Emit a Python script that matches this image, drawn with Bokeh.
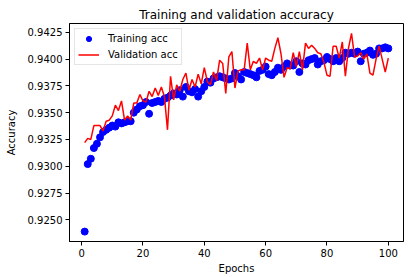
from bokeh.plotting import figure
from bokeh.embed import file_html
from bokeh.resources import INLINE
from bokeh.models import Range1d, FixedTicker, NumeralTickFormatter, Legend, LegendItem, ColumnDataSource

epochs = list(range(1, 101))
train_acc = [
    0.9239, 0.9302, 0.9307, 0.9317, 0.9321, 0.9327, 0.9332, 0.9334, 0.9336, 0.9338,
    0.9337, 0.9341, 0.9340, 0.9341, 0.9342, 0.9342, 0.9350, 0.9353, 0.9356, 0.9357,
    0.9360, 0.9349, 0.9359, 0.9360, 0.9361, 0.9360, 0.9363, 0.9364, 0.9366, 0.9368,
    0.9367, 0.9371, 0.9365, 0.9374, 0.9370, 0.9369, 0.9372, 0.9365, 0.9370, 0.9374,
    0.9379, 0.9378, 0.9382, 0.9383, 0.9384, 0.9383, 0.9382, 0.9381, 0.9382, 0.9387,
    0.9384, 0.9381, 0.9388, 0.9387, 0.9386, 0.9385, 0.9383, 0.9389, 0.9390, 0.9393,
    0.9386, 0.9385, 0.9388, 0.9392, 0.9390, 0.9393, 0.9396, 0.9394, 0.9394, 0.9398,
    0.9388, 0.9396, 0.9395, 0.9399, 0.9400, 0.9401, 0.9395, 0.9398, 0.9399, 0.9402,
    0.9400, 0.9398, 0.9401, 0.9398, 0.9401, 0.9406, 0.9405, 0.9406, 0.9405, 0.9407,
    0.9398, 0.9405, 0.9406, 0.9408, 0.9404, 0.9405, 0.9410, 0.9410, 0.9411, 0.9410,
]
val_acc = [
    0.9322, 0.9326, 0.9325, 0.9338, 0.9338, 0.9338, 0.9333, 0.9342, 0.9343, 0.9347,
    0.9357, 0.9352, 0.9361, 0.9343, 0.9347, 0.9343, 0.9359, 0.9359, 0.9367, 0.9361,
    0.9360, 0.9370, 0.9365, 0.9373, 0.9366, 0.9374, 0.9365, 0.9334, 0.9384, 0.9362,
    0.9376, 0.9370, 0.9381, 0.9387, 0.9371, 0.9381, 0.9374, 0.9386, 0.9377, 0.9392,
    0.9379, 0.9376, 0.9388, 0.9380, 0.9399, 0.9396, 0.9368, 0.9402, 0.9407, 0.9373,
    0.9389, 0.9390, 0.9390, 0.9415, 0.9390, 0.9398, 0.9396, 0.9401, 0.9390, 0.9401,
    0.9399, 0.9398, 0.9410, 0.9420, 0.9405, 0.9383, 0.9392, 0.9391, 0.9406, 0.9393,
    0.9407, 0.9390, 0.9415, 0.9410, 0.9413, 0.9410, 0.9406, 0.9405, 0.9397, 0.9385,
    0.9384, 0.9412, 0.9412, 0.9401, 0.9416, 0.9384, 0.9410, 0.9424, 0.9402, 0.9403,
    0.9406, 0.9400, 0.9405, 0.9387, 0.9385, 0.9400, 0.9412, 0.9400, 0.9388, 0.9401,
]
x_ticks = [0, 20, 40, 60, 80, 100]
y_ticks = [0.9250, 0.9275, 0.9300, 0.9325, 0.9350, 0.9375, 0.9400, 0.9425]

# matplotlib-style 5% margins
xmin, xmax = min(epochs), max(epochs)
xm = (xmax - xmin) * 0.05
allv = train_acc + val_acc
ymin, ymax = min(allv), max(allv)
ym = (ymax - ymin) * 0.05

FONT = "DejaVu Sans"

p = figure(
    frame_width=334, frame_height=218,
    output_backend="svg", toolbar_location=None,
    x_range=Range1d(xmin - xm, xmax + xm),
    y_range=Range1d(ymin - ym, ymax + ym),
    min_border_left=69, min_border_right=5, min_border_top=23, min_border_bottom=29,
    title="Training and validation accuracy",
)
p.title.text_font = FONT
p.title.text_font_size = "12px"
p.title.text_font_style = "normal"
p.title.align = "center"
p.title.text_color = "#000000"
p.title.offset = 0
p.title.standoff = 4

p.background_fill_color = "white"
p.border_fill_color = "white"
p.outline_line_color = "black"
p.outline_line_width = 1
p.xgrid.visible = False
p.ygrid.visible = False

src = ColumnDataSource(dict(x=epochs, t=train_acc, v=val_acc))
r_train = p.scatter("x", "t", source=src, size=7, marker="circle",
                    fill_color="#0000ff", line_color="#0000ff")
r_val = p.line("x", "v", source=src, line_color="#ff0000", line_width=1.5)

for ax in (p.xaxis[0], p.yaxis[0]):
    ax.major_label_text_font = FONT
    ax.major_label_text_font_size = "10px"
    ax.major_label_text_color = "#000000"
    ax.axis_label_text_font = FONT
    ax.axis_label_text_font_size = "10px"
    ax.axis_label_text_font_style = "normal"
    ax.axis_label_text_color = "#000000"
    ax.major_tick_out = 4
    ax.major_tick_in = 0
    ax.minor_tick_out = 0
    ax.minor_tick_in = 0
    ax.axis_line_color = "black"
    ax.major_tick_line_color = "black"
    ax.major_label_standoff = 3

p.xaxis.axis_label_standoff = 3
p.yaxis.axis_label_standoff = 8
p.xaxis.ticker = FixedTicker(ticks=x_ticks)
p.yaxis.ticker = FixedTicker(ticks=y_ticks)
p.yaxis.formatter = NumeralTickFormatter(format="0.0000")
p.xaxis.axis_label = "Epochs"
p.yaxis.axis_label = "Accuracy"

legend = Legend(items=[
    LegendItem(label="Training acc", renderers=[r_train]),
    LegendItem(label="Validation acc", renderers=[r_val]),
], location="top_left")
legend.label_text_font = FONT
legend.label_text_font_size = "10px"
legend.label_text_color = "#000000"
legend.border_line_color = "#cccccc"
legend.border_line_width = 1
legend.background_fill_alpha = 0.8
legend.glyph_width = 21
legend.glyph_height = 13
legend.label_height = 13
legend.spacing = 3
legend.padding = 3
legend.margin = 5
legend.label_standoff = 9
p.add_layout(legend)

open("out.html", "w").write(file_html(p, INLINE))
